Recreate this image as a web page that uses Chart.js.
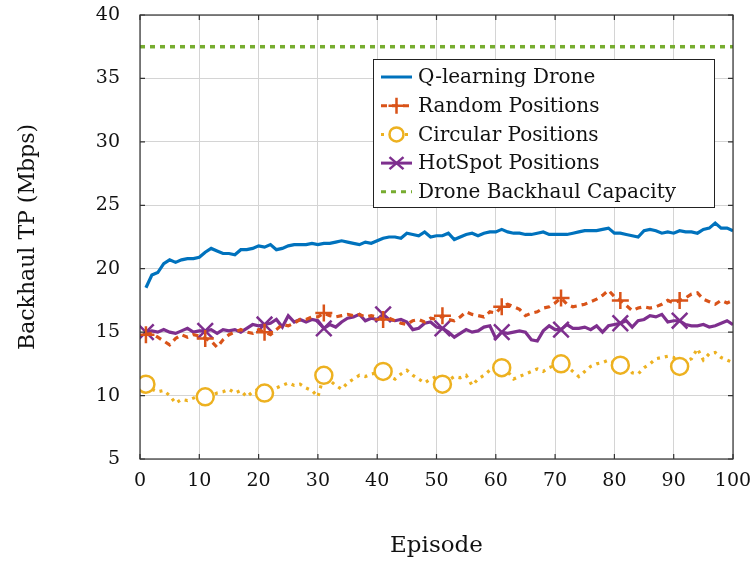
<!DOCTYPE html>
<html><head><meta charset="utf-8">
<script src="https://cdn.jsdelivr.net/npm/chart.js@4"></script>
<style>html,body{margin:0;padding:0;background:#fff}#wrap{width:754px;height:567px}</style>
</head><body><div id="wrap"><canvas id="c" width="754" height="567"></canvas></div>
<script>
const episodes = [1,2,3,4,5,6,7,8,9,10,11,12,13,14,15,16,17,18,19,20,21,22,23,24,25,26,27,28,29,30,31,32,33,34,35,36,37,38,39,40,41,42,43,44,45,46,47,48,49,50,51,52,53,54,55,56,57,58,59,60,61,62,63,64,65,66,67,68,69,70,71,72,73,74,75,76,77,78,79,80,81,82,83,84,85,86,87,88,89,90,91,92,93,94,95,96,97,98,99,100];
const qlearning = [18.5,19.5,19.7,20.4,20.7,20.5,20.7,20.8,20.8,20.9,21.3,21.6,21.4,21.2,21.2,21.1,21.5,21.5,21.6,21.8,21.7,21.9,21.5,21.6,21.8,21.9,21.9,21.9,22.0,21.9,22.0,22.0,22.1,22.2,22.1,22.0,21.9,22.1,22.0,22.2,22.4,22.5,22.5,22.4,22.8,22.7,22.6,22.9,22.5,22.6,22.6,22.8,22.3,22.5,22.7,22.8,22.6,22.8,22.9,22.9,23.1,22.9,22.8,22.8,22.7,22.7,22.8,22.9,22.7,22.7,22.7,22.7,22.8,22.9,23.0,23.0,23.0,23.1,23.2,22.8,22.8,22.7,22.6,22.5,23.0,23.1,23.0,22.8,22.9,22.8,23.0,22.9,22.9,22.8,23.1,23.2,23.6,23.2,23.2,23.0];
const randomPos = [14.8,14.9,14.6,14.3,14.0,14.5,14.8,14.6,14.8,14.7,14.5,14.3,13.8,14.4,14.8,15.0,15.2,15.0,14.9,15.2,15.0,14.8,15.2,15.6,15.5,15.7,16.0,16.0,16.2,16.2,16.5,16.3,16.2,16.3,16.4,16.3,16.4,16.2,16.3,16.2,16.0,16.1,15.9,15.7,15.6,15.9,16.0,15.8,16.1,16.0,16.3,16.0,15.9,16.2,16.6,16.4,16.3,16.2,16.6,16.5,17.0,17.2,17.0,16.8,16.3,16.5,16.6,16.9,17.0,17.3,17.7,17.2,17.0,17.1,17.2,17.4,17.6,17.9,18.3,17.8,17.5,17.1,16.7,16.9,17.0,16.9,17.0,17.2,17.5,17.3,17.5,17.7,18.0,18.1,17.6,17.4,17.2,17.5,17.3,17.5];
const circularPos = [10.9,10.5,10.3,10.4,10.0,9.4,9.7,9.6,9.8,10.0,9.9,10.0,10.2,10.3,10.5,10.2,10.4,9.9,10.3,10.5,10.2,10.3,10.6,10.8,11.0,10.8,10.9,10.6,10.4,9.9,11.6,11.2,10.8,10.5,11.0,11.3,11.6,11.5,11.7,11.8,11.9,11.5,11.3,11.7,12.0,11.6,11.3,11.0,11.3,11.5,10.9,11.2,11.5,11.4,11.6,10.8,11.3,11.6,12.0,12.1,12.2,11.9,11.3,11.5,11.7,11.9,12.1,11.9,12.2,12.4,12.5,12.3,11.9,11.5,11.9,12.3,12.5,12.6,12.8,12.6,12.4,12.4,11.8,11.7,12.2,12.5,12.9,13.0,13.1,13.0,12.3,12.7,12.9,13.7,12.8,13.3,13.4,13.0,12.8,12.6];
const hotspotPos = [15.0,15.1,15.0,15.2,15.0,14.9,15.1,15.3,15.0,15.1,15.1,15.2,14.9,15.2,15.1,15.2,15.0,15.3,15.6,15.5,15.6,15.7,16.0,15.4,16.3,15.8,16.0,15.8,16.0,15.9,15.3,15.6,15.4,15.8,16.1,16.2,16.4,15.9,16.1,16.0,16.4,16.0,15.9,16.0,15.8,15.2,15.3,15.7,15.8,15.4,15.3,15.0,14.6,14.9,15.2,15.0,15.1,15.4,15.5,14.5,15.0,14.9,15.0,15.1,15.0,14.4,14.3,15.1,15.5,15.2,15.2,15.6,15.3,15.3,15.4,15.2,15.5,15.0,15.5,15.6,15.7,15.9,15.4,15.9,16.0,16.3,16.2,16.4,15.8,15.9,15.9,15.6,15.5,15.5,15.6,15.4,15.5,15.7,15.9,15.6];
const capacityX = [0,100];
const capacity = [37.5,37.5];
const xTicks = [0,10,20,30,40,50,60,70,80,90,100];
const yTicks = [5,10,15,20,25,30,35,40];
const labels = ['Q-learning Drone','Random Positions','Circular Positions','HotSpot Positions','Drone Backhaul Capacity'];

const FONT = "'DejaVu Serif', serif";
const pts = (xs, ys) => xs.map((x,i)=>({x, y: ys[i]}));
const markEvery = r => ctx => (ctx.dataIndex % 10 === 0 ? r : 0);

const series = [
  {label: labels[0], data: pts(episodes,qlearning), borderColor:'#0072BD', borderWidth:3.2, pointRadius:0, order:1},
  {label: labels[1], data: pts(episodes,randomPos), borderColor:'#D95319', borderWidth:3.2, borderDash:[6,5], pointStyle:'cross', pointRadius:markEvery(8.5), pointBorderWidth:2.5, pointBorderColor:'#D95319', order:2},
  {label: labels[2], data: pts(episodes,circularPos), borderColor:'#EDB120', borderWidth:3.2, borderDash:[3,5], pointStyle:'circle', pointRadius:markEvery(8.5), pointBorderWidth:2.5, pointBorderColor:'#EDB120', pointBackgroundColor:'#fff', order:3},
  {label: labels[3], data: pts(episodes,hotspotPos), borderColor:'#7E2F8E', borderWidth:3.2, pointStyle:'crossRot', pointRadius:markEvery(11), pointBorderWidth:2.5, pointBorderColor:'#7E2F8E', order:4},
  {label: labels[4], data: pts(capacityX,capacity), borderColor:'#77AC30', borderWidth:3.5, borderDash:[5,5], pointRadius:0, order:5}
];
series.forEach(s=>{s.fill=false; s.tension=0; s.pointHoverRadius=0;});

const frame = {
  id:'frame',
  afterDatasetsDraw(chart){
    const {ctx, chartArea:{left,right,top,bottom}, scales:{x,y}} = chart;
    ctx.save();
    ctx.strokeStyle='#333'; ctx.lineWidth=1.2; ctx.setLineDash([]);
    ctx.strokeRect(left, top, right-left, bottom-top);
    ctx.beginPath();
    xTicks.forEach(v=>{const px=x.getPixelForValue(v); ctx.moveTo(px,bottom); ctx.lineTo(px,bottom-5); ctx.moveTo(px,top); ctx.lineTo(px,top+5);});
    yTicks.forEach(v=>{const py=y.getPixelForValue(v); ctx.moveTo(left,py); ctx.lineTo(left+5,py); ctx.moveTo(right,py); ctx.lineTo(right-5,py);});
    ctx.stroke();
    // legend
    const bx=373, by=59, bw=341, bh=148, rowH=28.7, r0=77;
    ctx.fillStyle='#fff'; ctx.fillRect(bx,by,bw,bh);
    ctx.strokeStyle='#222'; ctx.lineWidth=1; ctx.strokeRect(bx+0.5,by+0.5,bw,bh);
    ctx.font = "20px " + FONT; ctx.textBaseline='middle'; ctx.textAlign='left';
    chart.data.datasets.forEach((ds,i)=>{
      const cy = r0 + i*rowH;
      ctx.strokeStyle=ds.borderColor; ctx.lineWidth=3; ctx.setLineDash(ds.borderDash||[]);
      ctx.beginPath(); ctx.moveTo(381,cy); ctx.lineTo(412,cy); ctx.stroke();
      ctx.setLineDash([]); ctx.lineWidth=2.5;
      const mx=396.5;
      if(ds.pointStyle==='cross'){ctx.beginPath(); ctx.moveTo(mx-8,cy); ctx.lineTo(mx+8,cy); ctx.moveTo(mx,cy-8); ctx.lineTo(mx,cy+8); ctx.stroke();}
      else if(ds.pointStyle==='circle'){ctx.beginPath(); ctx.arc(mx,cy,7,0,Math.PI*2); ctx.fillStyle='#fff'; ctx.fill(); ctx.stroke();}
      else if(ds.pointStyle==='crossRot'){ctx.beginPath(); ctx.moveTo(mx-7,cy-6); ctx.lineTo(mx+7,cy+6); ctx.moveTo(mx-7,cy+6); ctx.lineTo(mx+7,cy-6); ctx.stroke();}
      ctx.fillStyle='#111'; ctx.fillText(ds.label, 418, cy+1);
    });
    ctx.restore();
  }
};

const zeroPad = s => {s.paddingLeft=0; s.paddingRight=0; s.paddingTop=0; s.paddingBottom=0;};

new Chart(document.getElementById('c'), {
  type:'line',
  data:{datasets:series},
  options:{
    responsive:false, animation:false, devicePixelRatio:1,
    layout:{padding:{left:0,right:21,top:15,bottom:0}},
    plugins:{legend:{display:false}, tooltip:{enabled:false}},
    elements:{line:{capBezierPoints:false}},
    scales:{
      x:{type:'linear', min:0, max:100,
        afterBuildTicks: s=>{s.ticks = xTicks.map(v=>({value:v}));},
        afterFit: s=>{s.height=108; zeroPad(s);},
        ticks:{font:{family:FONT,size:19}, color:'#111', padding:11, maxRotation:0, autoSkip:false},
        grid:{color:'#d4d4d4', lineWidth:1, drawTicks:false},
        border:{display:false},
        title:{display:true, text:'Episode', font:{family:FONT,size:23}, color:'#111', padding:{top:0,bottom:7}}
      },
      y:{type:'linear', min:5, max:40,
        afterBuildTicks: s=>{s.ticks = yTicks.map(v=>({value:v}));},
        afterFit: s=>{s.width=140; zeroPad(s);},
        ticks:{font:{family:FONT,size:19}, color:'#111', padding:20, autoSkip:false},
        grid:{color:'#d4d4d4', lineWidth:1, drawTicks:false},
        border:{display:false},
        title:{display:true, text:'Backhaul TP (Mbps)', font:{family:FONT,size:22}, color:'#111', padding:{top:15,bottom:0}}
      }
    }
  },
  plugins:[frame]
});
</script></body></html>
